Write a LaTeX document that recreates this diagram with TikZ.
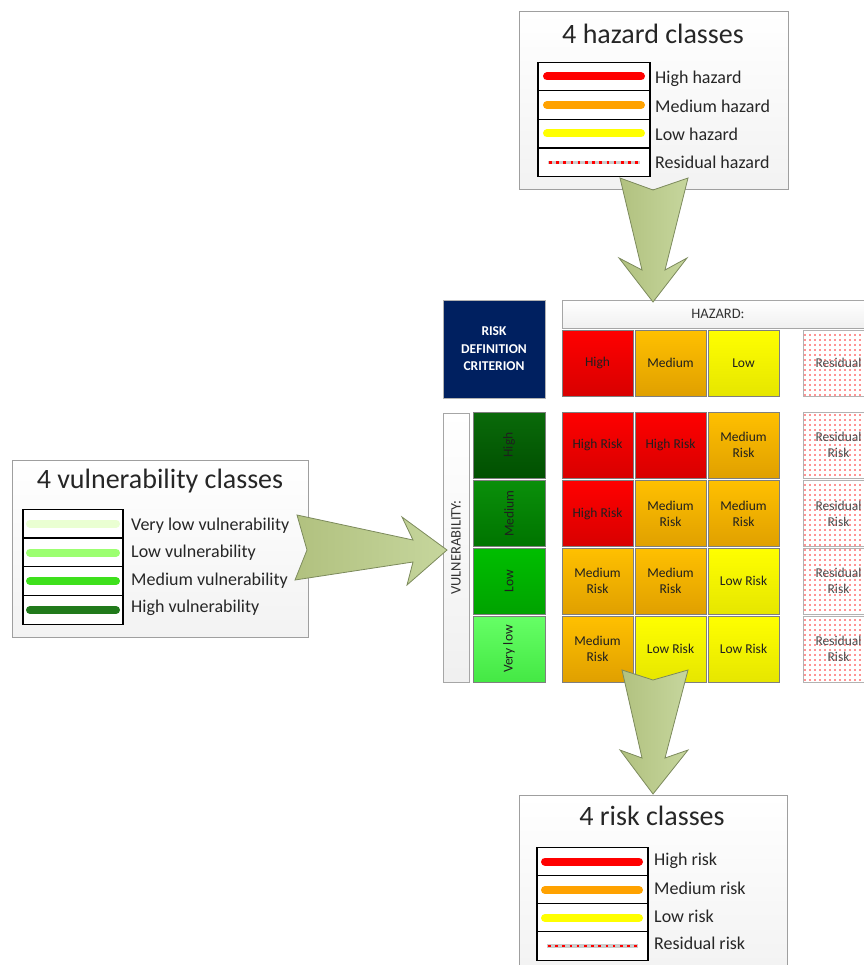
\documentclass[tikz,border=0pt]{standalone}
\usepackage{fontspec}
\setmainfont{Carlito}
\usetikzlibrary{patterns.meta}
\definecolor{navy}{HTML}{002060}
\definecolor{arrowA}{HTML}{B1C17F}
\definecolor{arrowB}{HTML}{C6D69D}
\definecolor{arrowD}{HTML}{7C8A5C}
\definecolor{cellborder}{HTML}{7F7F7F}
\definecolor{redT}{HTML}{FF0000}\definecolor{redB}{HTML}{D80000}
\definecolor{orT}{HTML}{FFC000}\definecolor{orB}{HTML}{E0A000}
\definecolor{yeT}{HTML}{FFFF00}\definecolor{yeB}{HTML}{E6E600}
\definecolor{vhT}{HTML}{0A6A0A}\definecolor{vhB}{HTML}{005000}
\definecolor{vmT}{HTML}{0A8F0A}\definecolor{vmB}{HTML}{007400}
\definecolor{vlT}{HTML}{00BE00}\definecolor{vlB}{HTML}{00A300}
\definecolor{vvT}{HTML}{66FF66}\definecolor{vvB}{HTML}{44E844}
\definecolor{lgRed}{HTML}{FF0000}
\definecolor{lgOr}{HTML}{FFA200}
\definecolor{lgYe}{HTML}{FFFF00}
\definecolor{lgG1}{HTML}{EAFFD2}
\definecolor{lgG2}{HTML}{9CFF70}
\definecolor{lgG3}{HTML}{3EE01C}
\definecolor{lgG4}{HTML}{217A1B}
\begin{document}
\begin{tikzpicture}[x=1pt,y=-1pt,
  panel/.style={draw=gray!75, line width=1pt, top color=white, bottom color=gray!10, inner sep=0pt, outer sep=0pt},
  ttl/.style={font=\fontsize{28}{33}\selectfont, text=black!85},
  legcell/.style={draw=black, line width=1.1pt, fill=white, minimum width=112pt, minimum height=28.7pt, inner sep=0pt, outer sep=0pt},
  vlegcell/.style={legcell, minimum width=100pt},
  leglabel/.style={anchor=west, font=\fontsize{18}{21}\selectfont, text=black!85, inner sep=0pt},
  legline/.style={line width=8pt, line cap=round},
  resline/.style={line width=3.5pt, gray!40},
  resdots/.style={line width=2.6pt, red, dash pattern=on 2.6pt off 4.6pt},
  cell/.style={draw=cellborder, line width=0.8pt, minimum width=71pt, minimum height=66pt, inner sep=0pt, outer sep=0pt, align=center, font=\fontsize{13.5}{16}\selectfont, text=black!88},
  redc/.style={cell, top color=redT, bottom color=redB},
  orc/.style={cell, top color=orT, bottom color=orB},
  yec/.style={cell, top color=yeT, bottom color=yeB},
  resc/.style={cell, draw=gray!60, text=black!70, pattern={Dots[distance=5pt, radius=0.8pt]}, pattern color=red!85},
  vcell/.style={cell, minimum width=72pt},
  bar/.style={draw=gray!70, line width=0.8pt, top color=white, bottom color=gray!12, inner sep=0pt, outer sep=0pt, font=\fontsize{14.5}{17}\selectfont, text=black!80},
  bigarrow/.style={draw=arrowD, line width=0.8pt, left color=arrowA, right color=arrowB, line join=miter}
]
\useasboundingbox (0,0) rectangle (863,965);

% ---------- hazard legend box ----------
\node[panel, minimum width=269pt, minimum height=178pt] (hazbox) at (653.5,101) {};
\node[ttl] (haztitle) at (653,34) {4 hazard classes};
\node[legcell] (h1) at (594,76.5) {};
\node[legcell] (h2) at (594,105) {};
\node[legcell] (h3) at (594,133.5) {};
\node[legcell] (h4) at (594,162.5) {};
\draw[legline, lgRed] ([xshift=9pt]h1.west) -- ([xshift=-9pt]h1.east);
\draw[legline, lgOr] ([xshift=9pt]h2.west) -- ([xshift=-9pt]h2.east);
\draw[legline, lgYe] ([xshift=9pt]h3.west) -- ([xshift=-9pt]h3.east);
\draw[resline] ([xshift=10pt]h4.west) -- ([xshift=-10pt]h4.east);
\draw[resdots] ([xshift=11pt]h4.west) -- ([xshift=-10pt]h4.east);
\node[leglabel] (h1l) at (655,79) {High hazard};
\node[leglabel] (h2l) at (655,106) {Medium hazard};
\node[leglabel] (h3l) at (655,134) {Low hazard};
\node[leglabel] (h4l) at (655,162) {Residual hazard};

% ---------- vulnerability legend box ----------
\node[panel, minimum width=296pt, minimum height=177pt] (vulbox) at (160,548.5) {};
\node[ttl] (vultitle) at (160,481) {4 vulnerability classes};
\node[vlegcell] (v1) at (73,523.5) {};
\node[vlegcell] (v2) at (73,552.5) {};
\node[vlegcell] (v3) at (73,581) {};
\node[vlegcell] (v4) at (73,610) {};
\draw[legline, lgG1] ([xshift=7pt]v1.west) -- ([xshift=-7pt]v1.east);
\draw[legline, lgG2] ([xshift=7pt]v2.west) -- ([xshift=-7pt]v2.east);
\draw[legline, lgG3] ([xshift=7pt]v3.west) -- ([xshift=-7pt]v3.east);
\draw[legline, lgG4] ([xshift=7pt]v4.west) -- ([xshift=-7pt]v4.east);
\node[leglabel] (v1l) at (131,526) {Very low vulnerability};
\node[leglabel] (v2l) at (131,553) {Low vulnerability};
\node[leglabel] (v3l) at (131,581) {Medium vulnerability};
\node[leglabel] (v4l) at (131,608) {High vulnerability};

% ---------- risk legend box ----------
\node[panel, minimum width=268pt, minimum height=180pt] (riskbox) at (653,885) {};
\node[ttl] (risktitle) at (652,816) {4 risk classes};
\node[legcell, minimum width=111pt] (r1) at (592.5,861.5) {};
\node[legcell, minimum width=111pt] (r2) at (592.5,890) {};
\node[legcell, minimum width=111pt] (r3) at (592.5,918) {};
\node[legcell, minimum width=111pt] (r4) at (592.5,946) {};
\draw[legline, lgRed] ([xshift=8pt]r1.west) -- ([xshift=-9pt]r1.east);
\draw[legline, lgOr] ([xshift=8pt]r2.west) -- ([xshift=-9pt]r2.east);
\draw[legline, lgYe] ([xshift=8pt]r3.west) -- ([xshift=-9pt]r3.east);
\draw[resline] ([xshift=10pt]r4.west) -- ([xshift=-10pt]r4.east);
\draw[resdots] ([xshift=11pt]r4.west) -- ([xshift=-10pt]r4.east);
\node[leglabel] (r1l) at (654,861) {High risk};
\node[leglabel] (r2l) at (654,888) {Medium risk};
\node[leglabel] (r3l) at (654,916) {Low risk};
\node[leglabel] (r4l) at (654,943) {Residual risk};

% ---------- matrix ----------
\node[fill=navy, draw=gray!60, line width=0.6pt, minimum width=102pt, minimum height=98pt, inner sep=0pt, align=center, text=white,
      font=\bfseries\fontsize{13.5}{17.5}\selectfont] (crit) at (494,349) {RISK\\DEFINITION\\CRITERION};
\node[bar, minimum width=312pt, minimum height=28pt] (hazbar) at (718,314) {HAZARD:};
\node[bar, minimum width=26pt, minimum height=269pt] (vulbar) at (456,547.5) {\rotatebox{90}{VULNERABILITY:}};

\node[redc] (hH) at (597.5,363) {High};
\node[orc]  (hM) at (670.5,363) {Medium};
\node[yec]  (hL) at (743.5,363) {Low};
\node[resc] (hR) at (838.5,363) {Residual};

\node[vcell, top color=vhT, bottom color=vhB] (vH) at (509,445) {\rotatebox{90}{High}};
\node[vcell, top color=vmT, bottom color=vmB] (vM) at (509,513.5) {\rotatebox{90}{Medium}};
\node[vcell, top color=vlT, bottom color=vlB] (vL) at (509,581) {\rotatebox{90}{Low}};
\node[vcell, top color=vvT, bottom color=vvB] (vV) at (509,649) {\rotatebox{90}{Very low}};

\node[redc] (c11) at (597.5,445) {High Risk};
\node[redc] (c12) at (670.5,445) {High Risk};
\node[orc]  (c13) at (743.5,445) {Medium\\Risk};
\node[resc] (c14) at (838.5,445) {Residual\\Risk};

\node[redc] (c21) at (597.5,513.5) {High Risk};
\node[orc]  (c22) at (670.5,513.5) {Medium\\Risk};
\node[orc]  (c23) at (743.5,513.5) {Medium\\Risk};
\node[resc] (c24) at (838.5,513.5) {Residual\\Risk};

\node[orc]  (c31) at (597.5,581) {Medium\\Risk};
\node[orc]  (c32) at (670.5,581) {Medium\\Risk};
\node[yec]  (c33) at (743.5,581) {Low Risk};
\node[resc] (c34) at (838.5,581) {Residual\\Risk};

\node[orc]  (c41) at (597.5,649) {Medium\\Risk};
\node[yec]  (c42) at (670.5,649) {Low Risk};
\node[yec]  (c43) at (743.5,649) {Low Risk};
\node[resc] (c44) at (838.5,649) {Residual\\Risk};

% ---------- block arrows ----------
\draw[bigarrow] (620,178) -- (653,190) -- (688,178) -- (665,270) -- (687,258) -- (653,302)
  -- (619,258) -- (642,270) -- cycle;
\draw[bigarrow] (622,670) -- (653,680) -- (688,670) -- (665,758) -- (688,750) -- (653,794)
  -- (620,750) -- (642,758) -- cycle;
\draw[bigarrow] (297,515) -- (413,540) -- (402,517) -- (447,550) -- (407,585) -- (413,562)
  -- (295,580) -- (307,550) -- cycle;
\end{tikzpicture}
\end{document}
